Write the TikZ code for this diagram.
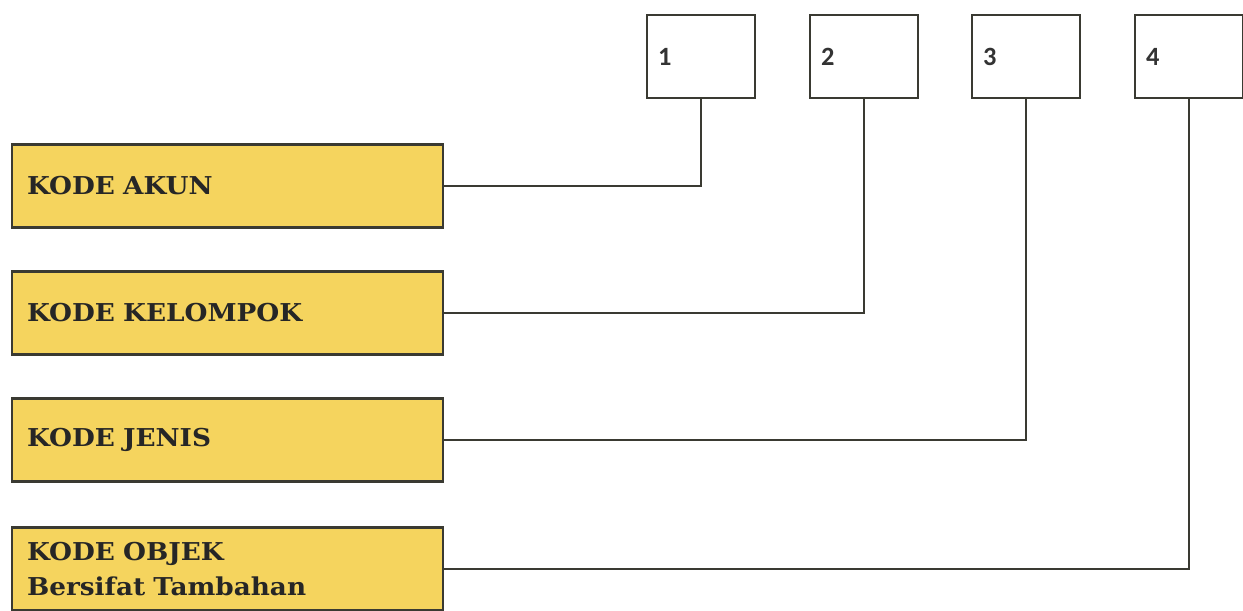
\documentclass[tikz,border=0pt]{standalone}
\usepackage{fontspec}
\newfontfamily\kodefont[FakeStretch=1.07]{DejaVu Serif}
\newfontfamily\numfont{Carlito}
\usetikzlibrary{positioning}
\definecolor{kodefill}{HTML}{F5D45E}
\definecolor{kodeline}{HTML}{3A3A32}
\begin{document}
\begin{tikzpicture}[
				x=0.02cm,y=-0.02cm,
				kode/.style={
					draw=kodeline,
					fill=kodefill,
					line width=1.6pt,
					minimum width=8.62cm,
					minimum height=1.66cm,
					text width=8.02cm,
					inner xsep=0.3cm,
					align=left,
					font=\kodefont\bfseries\fontsize{14}{20}\selectfont,
					text=black!85
				},
				digit/.style={
					draw=kodeline,
					fill=white,
					line width=1.6pt,
					minimum width=2.16cm,
					minimum height=1.66cm,
					text width=1.72cm,
					inner xsep=0.22cm,
					align=left,
					font=\numfont\bfseries\fontsize{15}{17}\selectfont,
					text=black!80
				},
				conn/.style={
					draw=kodeline,
					line width=1.2pt
				}
			]
			\useasboundingbox (0,0) rectangle (1243,610);
			\node[digit] at (701,56.5) (d1) {1};
			\node[digit] at (864,56.5) (d2) {2};
			\node[digit] at (1026,56.5) (d3) {3};
			\node[digit] at (1189,56.5) (d4) {4};
			
			\node[kode] at (227.5,186) (akun) {KODE AKUN};
			\node[kode] at (227.5,313) (kelompok) {KODE KELOMPOK};
			\node[kode] at (227.5,440) (jenis) {KODE JENIS};
			\node[kode] at (227.5,569) (objek) {KODE OBJEK\\Bersifat Tambahan};
			
			\draw[conn] (akun.east) -| (d1.south);
			\draw[conn] (kelompok.east) -| (d2.south);
			\draw[conn] (jenis.east) -| (d3.south);
			\draw[conn] (objek.east) -| (d4.south);
		\end{tikzpicture}
\end{document}
